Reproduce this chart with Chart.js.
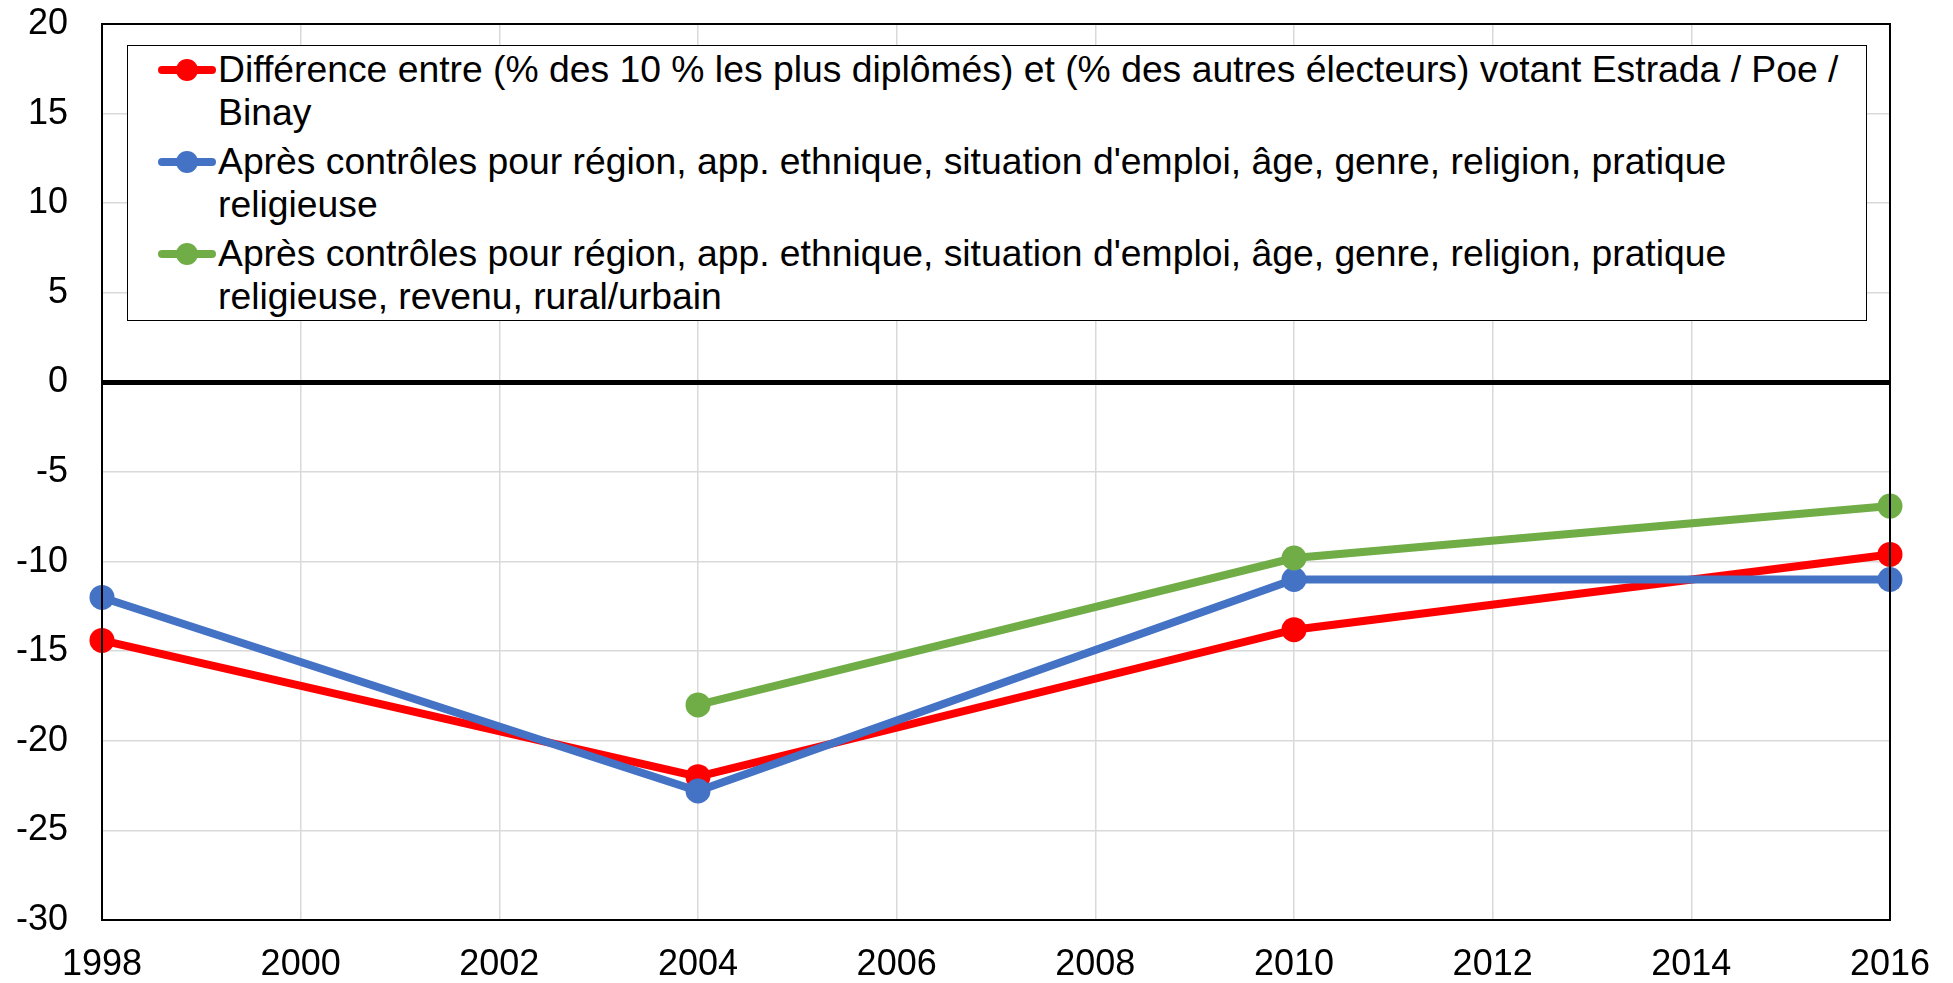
<!DOCTYPE html>
<html lang="fr">
<head>
  <meta charset="UTF-8" />
  <title>Vote et diplôme - Philippines</title>
  <style>
    body {
      margin: 0;
      background: #fff;
      font-family: 'Liberation Sans', Arial, sans-serif;
    }
    .wrap {
      position: relative;
      width: 1953px;
      height: 983px;
    }
    .legend {
      position: absolute;
      left: 127px;
      top: 45px;
      width: 1740px;
      height: 276px;
      border: 1.5px solid #000;
      background: #fff;
      padding-top: 2px;
      box-sizing: border-box;
    }
    .legend .item {
      position: relative;
      padding-left: 90px;
      font-size: 37.3px;
      line-height: 43px;
      color: #000;
      white-space: nowrap;
      margin-bottom: 6px;
    }
    .legend .mark {
      position: absolute;
      left: 30px;
      top: 21.6px;
      width: 58px;
      height: 8px;
      margin-top: -4px;
      border-radius: 4px;
    }
    .legend .mark::after {
      content: '';
      position: absolute;
      left: 18px;
      top: -7px;
      width: 22px;
      height: 22px;
      border-radius: 50%;
      background: inherit;
    }
  </style>
</head>
<body>
  <div class="wrap">
    <canvas id="chart" width="1953" height="983"></canvas>
    <div class="legend" id="legend"></div>
  </div>

  <script src="https://cdn.jsdelivr.net/npm/chart.js"></script>
  <script>
    // data
    const years = [1998, 2004, 2010, 2016];
    const ecartBrut = [-14.4, -22.0, -13.8, -9.6];
    const controles1 = [-12.0, -22.8, -11.0, -11.0];
    const controles2 = [null, -18.0, -9.8, -6.9];
    const labels = [
      'Différence entre (% des 10 % les plus diplômés) et (% des autres électeurs) votant Estrada / Poe /<br>Binay',
      "Après contrôles pour région, app. ethnique, situation d'emploi, âge, genre, religion, pratique<br>religieuse",
      "Après contrôles pour région, app. ethnique, situation d'emploi, âge, genre, religion, pratique<br>religieuse, revenu, rural/urbain"
    ];
    const colors = ['#FF0000', '#4472C4', '#70AD47'];

    const FONT = "'Liberation Sans', Arial, sans-serif";

    function toPoints(vals) {
      return years.map((y, i) => ({ x: y, y: vals[i] })).filter(p => p.y !== null);
    }

    const series = [ecartBrut, controles1, controles2];
    const datasets = series.map((vals, i) => ({
      label: labels[i],
      data: toPoints(vals),
      borderColor: colors[i],
      backgroundColor: colors[i],
      borderWidth: 8,
      pointRadius: 12.5,
      pointHoverRadius: 12.5,
      pointBorderWidth: 0,
      tension: 0,
      clip: false,
      order: 3 - i
    }));

    // frame around plot area
    const frame = {
      id: 'frame',
      afterDraw(chart) {
        const a = chart.chartArea, c = chart.ctx;
        c.save();
        c.strokeStyle = '#000';
        c.lineWidth = 2;
        c.strokeRect(a.left, a.top, a.right - a.left, a.bottom - a.top);
        c.restore();
      }
    };

    new Chart(document.getElementById('chart').getContext('2d'), {
      type: 'line',
      data: { datasets: datasets },
      plugins: [frame],
      options: {
        responsive: false,
        devicePixelRatio: 1,
        animation: false,
        layout: { padding: { top: 24, right: 63, left: 0, bottom: 0 } },
        plugins: {
          legend: { display: false },
          tooltip: { enabled: false }
        },
        scales: {
          x: {
            type: 'linear',
            min: 1998,
            max: 2016,
            afterFit: s => {
              s.height = 63;
              s.paddingLeft = 0;
              s.paddingRight = 0;
            },
            ticks: {
              stepSize: 2,
              padding: 23,
              color: '#000',
              font: { family: FONT, size: 36 },
              callback: v => String(v)
            },
            grid: { color: '#d9d9d9', lineWidth: 1.5, drawTicks: false },
            border: { color: '#000', width: 2 }
          },
          y: {
            min: -30,
            max: 20,
            afterFit: s => {
              s.width = 102;
              s.paddingTop = 0;
              s.paddingBottom = 0;
            },
            ticks: {
              stepSize: 5,
              padding: 34,
              color: '#000',
              font: { family: FONT, size: 36 }
            },
            grid: {
              drawTicks: false,
              color: ctx => ctx.tick && ctx.tick.value === 0 ? '#000' : '#d9d9d9',
              lineWidth: ctx => ctx.tick && ctx.tick.value === 0 ? 5 : 1.5
            },
            border: { color: '#000', width: 2 }
          }
        }
      }
    });

    // legend with wrapped text
    const leg = document.getElementById('legend');
    labels.forEach((txt, i) => {
      const item = document.createElement('div');
      item.className = 'item';
      item.innerHTML = '<span class="mark" style="background:' + colors[i] + '"></span>' + txt;
      leg.appendChild(item);
    });
  </script>
</body>
</html>
